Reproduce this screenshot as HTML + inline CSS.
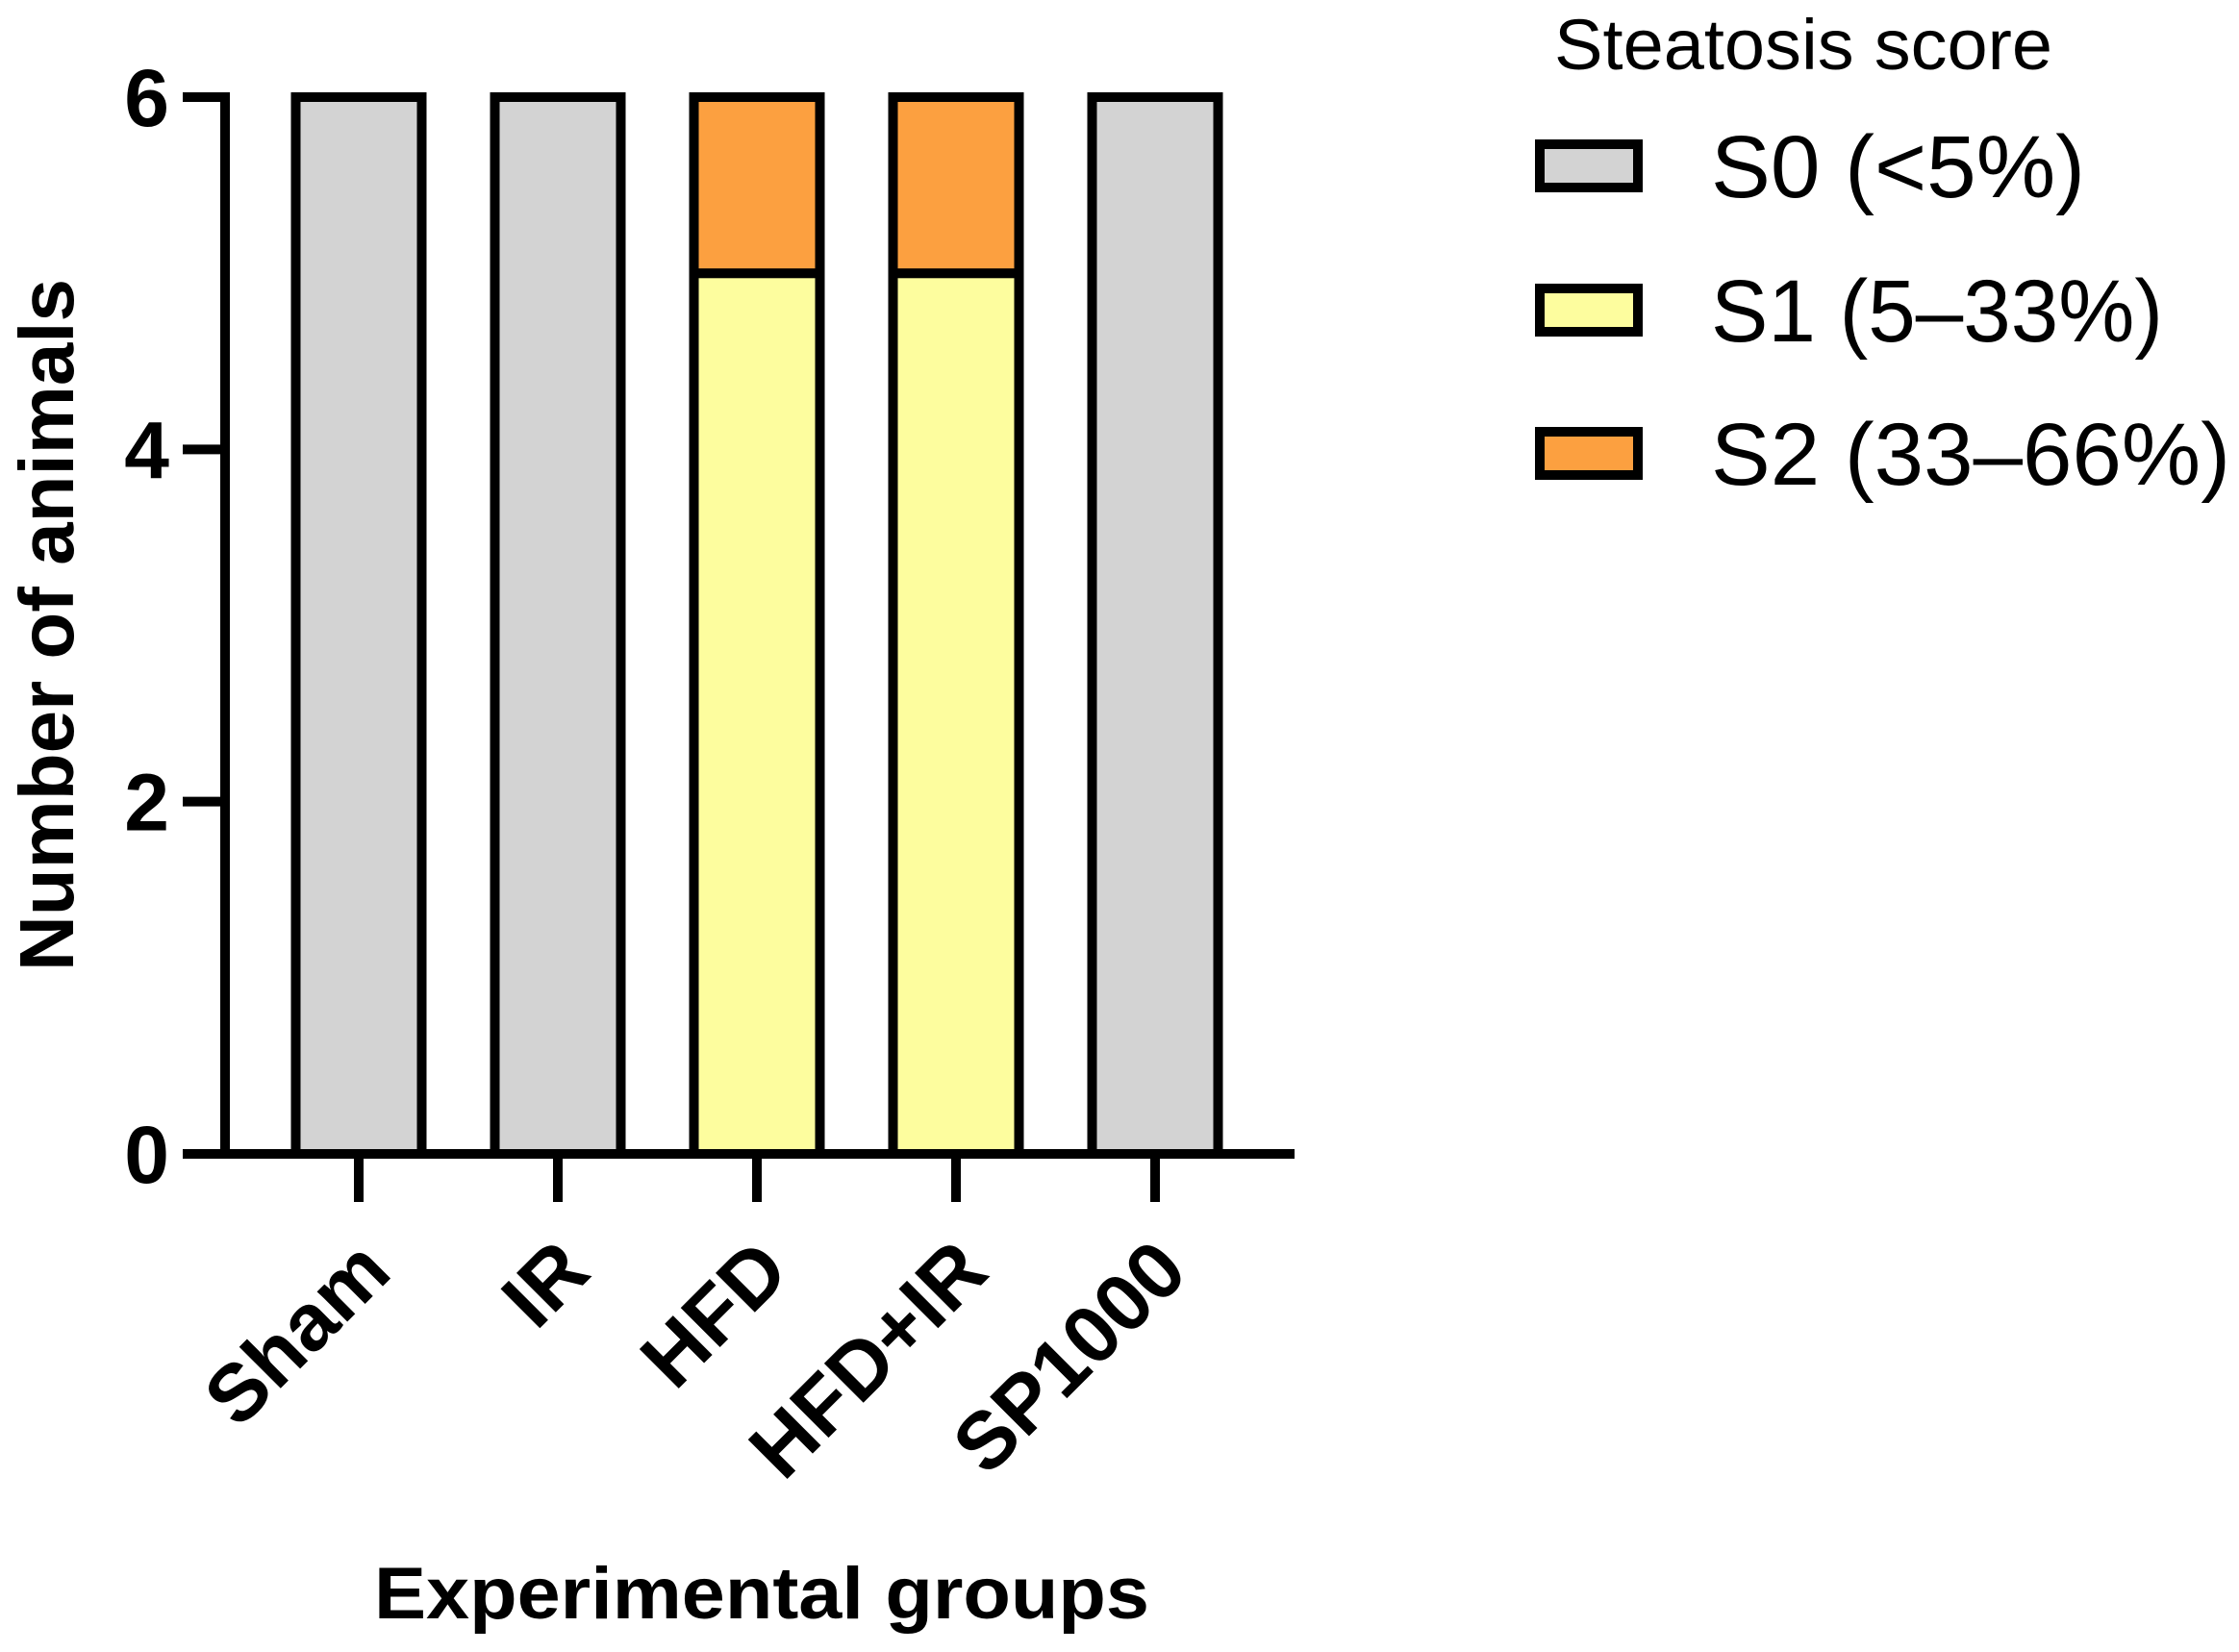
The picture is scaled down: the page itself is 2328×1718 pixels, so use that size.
<!DOCTYPE html>
<html><head><meta charset="utf-8"><style>
html,body{margin:0;padding:0;background:#fff;}
svg{display:block;font-family:"Liberation Sans",sans-serif;}
</style></head><body>
<svg id="chart" width="2328" height="1718" viewBox="0 0 2328 1718">
<g id="bars"></g>
<g id="axes"></g>
<text transform="translate(76,650) rotate(-90)" text-anchor="middle" font-weight="bold" font-size="80" textLength="720" lengthAdjust="spacingAndGlyphs">Number of animals</text>
<text x="792" y="1683" text-anchor="middle" font-weight="bold" font-size="76" textLength="806" lengthAdjust="spacingAndGlyphs">Experimental groups</text>
<g id="legend">
<text x="1616" y="72" font-size="74" textLength="518" lengthAdjust="spacingAndGlyphs">Steatosis score</text>
</g>
</svg>
<script>
const categories = ["Sham", "IR", "HFD", "HFD+IR", "SP1000"];
const s0Values = [6, 6, 0, 0, 6];
const s1Values = [0, 0, 5, 5, 0];
const s2Values = [0, 0, 1, 1, 0];
const yTicks = [0, 2, 4, 6];
const seriesNames = ["S0 (<5%)", "S1 (5–33%)", "S2 (33–66%)"];
const seriesColors = ["#d3d3d3", "#fdfd9e", "#fca040"];

const NS = "http://www.w3.org/2000/svg";
const y0 = 1200, yTop = 101, yMax = 6;
const xStart = 373, xStep = 207, barW = 131;
function yScale(v){ return y0 - (y0 - yTop) * v / yMax; }
function xScale(i){ return xStart + i * xStep; }
function mk(tag, attrs, parent){ const e = document.createElementNS(NS, tag); for (const k in attrs) e.setAttribute(k, attrs[k]); parent.appendChild(e); return e; }

const bars = document.getElementById("bars");
const series = [s0Values, s1Values, s2Values];
categories.forEach((c, i) => {
  let base = 0;
  series.forEach((arr, s) => {
    const v = arr[i];
    if (v > 0) {
      const r = mk("rect", {x: xScale(i) - barW/2, y: yScale(base + v), width: barW, height: yScale(base) - yScale(base + v), fill: seriesColors[s], stroke: "#000", "stroke-width": 10}, bars);
      
      
    }
    base += v;
  });
});

const axes = document.getElementById("axes");
const ya = mk("line", {x1: 234, y1: yTop - 5, x2: 234, y2: y0 + 5, stroke: "#000", "stroke-width": 10}, axes);


const xa = mk("line", {x1: 190, y1: y0, x2: 1346, y2: y0, stroke: "#000", "stroke-width": 10}, axes);


yTicks.forEach(t => {
  const l = mk("line", {x1: 190, y1: yScale(t), x2: 234, y2: yScale(t), stroke: "#000", "stroke-width": 10}, axes);
  
  
  const tx = mk("text", {x: 176, y: yScale(t) + 30, "text-anchor": "end", "font-size": 84, "font-weight": "bold"}, axes);
  tx.textContent = t;
  
  
});
categories.forEach((c, i) => {
  const x = xScale(i);
  const l = mk("line", {x1: x, y1: y0, x2: x, y2: 1250, stroke: "#000", "stroke-width": 10}, axes);
  
  
  const tx = mk("text", {transform: "translate(" + (x + 16) + ",1305) rotate(-45)", "text-anchor": "end", "font-size": 84, "font-weight": "bold", dy: "0.35em"}, axes);
  tx.textContent = c;
  
  
});

const legend = document.getElementById("legend");
const legTops = [145, 295, 444];
const legLens = [389, 470, 540];
seriesNames.forEach((n, s) => {
  const r = mk("rect", {x: 1601, y: legTops[s] + 5, width: 102, height: 45, fill: seriesColors[s], stroke: "#000", "stroke-width": 10}, legend);
  
  
  const t = mk("text", {x: 1779, y: legTops[s] + 60, "font-size": 92, textLength: legLens[s], lengthAdjust: "spacingAndGlyphs"}, legend);
  t.textContent = n;
  
  
});
</script>
</body></html>
